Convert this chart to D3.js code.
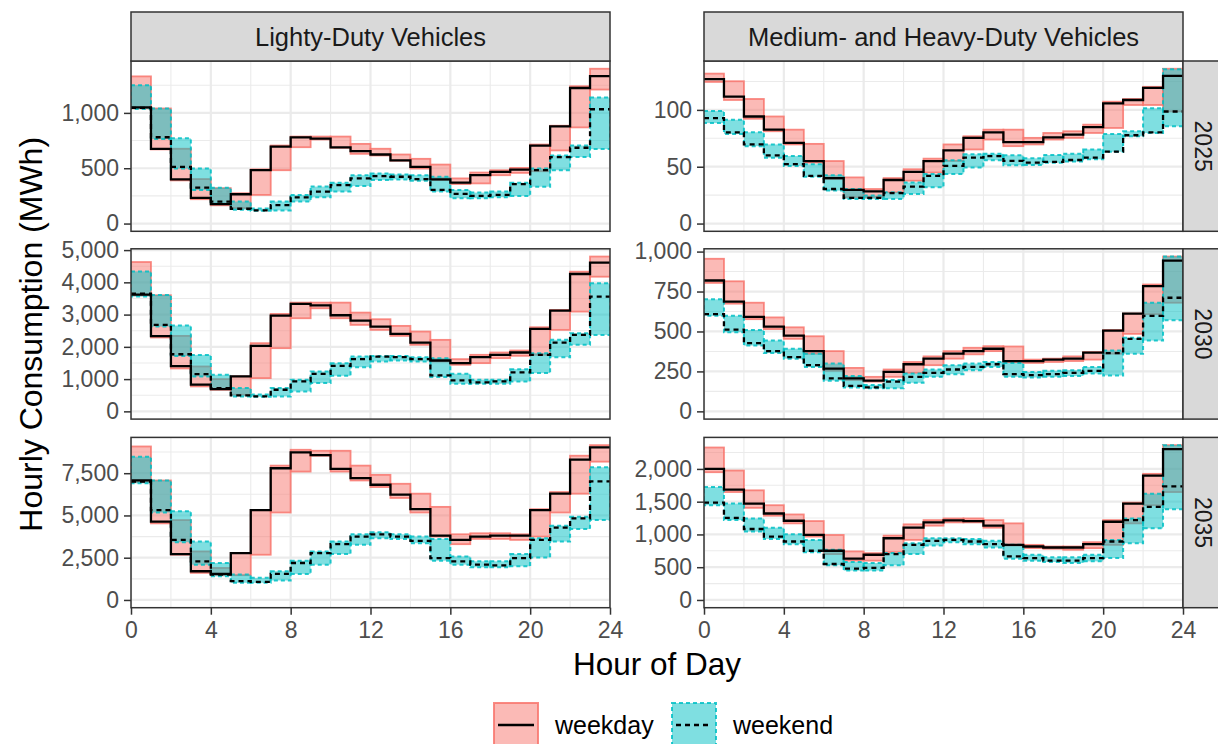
<!DOCTYPE html>
<html><head><meta charset="utf-8">
<script src="https://cdn.jsdelivr.net/npm/d3@7"></script>
<style>body{margin:0;background:#fff}svg{display:block}text{font-family:"Liberation Sans",Arial,sans-serif}</style>
</head><body><svg id="c" width="1218" height="744"></svg>
<script>
// ---------------- DATA ----------------
const hours = d3.range(24);
const vehicleTypes = ["Lighty-Duty Vehicles", "Medium- and Heavy-Duty Vehicles"];
const years = ["2025", "2030", "2035"];
const seriesNames = ["weekday", "weekend"];
const xTicks = [0, 4, 8, 12, 16, 20, 24];

// Light-duty 2025
const ldv2025WeekdayVal = [1050,675,400,232,176,265,482,696,778,768,688,655,624,571,512,399,369,437,467,488,705,878,1225,1332];
const ldv2025WeekdayLo  = [1040,670,390,220,165,140,259,482,690,760,685,630,615,568,497,393,357,363,437,458,473,661,869,1211];
const ldv2025WeekdayHi  = [1330,1040,676,402,320,274,490,705,786,786,786,720,676,624,585,533,408,461,482,503,714,884,1241,1399];
const ldv2025WeekendVal = [1045,780,512,324,199,134,120,167,237,289,348,408,429,423,402,304,268,250,259,357,482,601,685,1033];
const ldv2025WeekendLo  = [1035,765,497,304,179,125,115,119,199,237,289,339,393,399,387,289,229,229,238,250,333,482,601,673];
const ldv2025WeekendHi  = [1250,1039,770,497,324,199,135,199,259,334,369,437,452,444,437,423,304,280,289,369,497,616,705,1140];
// Light-duty 2030
const ldv2030WeekdayVal = [3620,2330,1400,826,690,1083,2031,2970,3330,3289,2980,2815,2629,2402,2134,1577,1495,1680,1753,1825,2557,3124,4258,4609];
const ldv2030WeekdayLo  = [3600,2290,1330,773,670,515,1031,1959,2887,3196,2887,2681,2526,2340,2062,1546,1443,1495,1650,1722,1753,2526,3093,4175];
const ldv2030WeekdayHi  = [4630,3600,2340,1392,1000,1083,2114,3020,3371,3371,3371,3062,2856,2650,2474,2217,1619,1753,1825,1887,2608,3145,4330,4800];
const ldv2030WeekendVal = [3650,2680,1770,1155,720,495,464,670,928,1165,1412,1619,1700,1680,1619,1113,959,897,928,1206,1753,2134,2371,3557];
const ldv2030WeekendLo  = [3560,2630,1715,1083,690,464,450,464,619,876,1103,1370,1546,1577,1546,1062,856,856,856,928,1186,1680,2062,2371];
const ldv2030WeekendHi  = [4340,3610,2660,1750,1134,722,520,722,980,1237,1495,1700,1720,1720,1680,1650,1165,980,980,1309,1804,2217,2423,3969];
// Light-duty 2035
const ldv2035WeekdayVal = [7070,4629,2715,1699,1543,2773,5312,7792,8730,8574,7753,7206,6816,6230,5371,3808,3554,3750,3808,3808,5312,6289,8300,9023];
const ldv2035WeekdayLo  = [6972,4531,2676,1601,1465,1465,2676,5175,7597,8534,7597,7070,6679,6035,5175,3750,3300,3613,3613,3554,3750,5175,6289,8183];
const ldv2035WeekdayHi  = [9081,7070,4726,2871,1894,2773,5312,7948,8886,8827,8827,7948,7402,6874,6289,5507,3886,3945,3945,3886,5371,6386,8534,9160];
const ldv2035WeekendVal = [7000,5312,3554,2285,1504,1113,1074,1543,2187,2773,3300,3750,3886,3750,3496,2480,2285,2090,2051,2480,3554,4277,4824,7011];
const ldv2035WeekendLo  = [6900,5175,3418,2090,1406,1016,1016,1152,1543,2090,2715,3261,3652,3613,3359,2324,2090,1933,1933,1992,2519,3457,4199,4726];
const ldv2035WeekendHi  = [8476,7070,5253,3457,2187,1504,1308,1699,2324,2871,3457,3886,4004,3886,3750,3613,2578,2285,2285,2715,3652,4394,4921,7851];
// Medium/heavy-duty 2025
const mhdv2025WeekdayVal = [127,111.6,94.2,82.6,71,55,40,29.6,28.4,38.3,45.5,55,64.3,75.4,80.3,71.6,71.6,75.9,78.3,84.9,105.8,108.7,119.4,129.9];
const mhdv2025WeekdayLo  = [124.6,108.7,92.2,81.2,69.6,53.6,39.1,23.2,23.2,27.5,37.7,44.9,55.1,65.2,73.9,68.1,69.6,73.9,75.4,79.7,84.1,104.3,104.3,98.6];
const mhdv2025WeekdayHi  = [131.9,125.2,109.6,94.2,82.6,70.1,55,40.6,30.4,40,47.8,57.1,69.6,76.8,82.6,82.6,75.4,79.7,81.2,87,107.2,109.6,120.3,136.2];
const mhdv2025WeekendVal = [92.8,80.3,69.6,60,52.2,42,30.4,22.6,22.6,26.7,32.5,42,50.7,58,59.4,55.1,53.6,54.2,55.9,58,63.2,77.7,80.3,98.6];
const mhdv2025WeekendLo  = [88.4,78.8,68.1,58,50.7,41.2,29,21.7,21.7,21.7,26.1,31.9,43.5,49.3,55.7,51.3,51.6,53.6,54.5,56.5,63.2,76.8,79.7,85.5];
const mhdv2025WeekendHi  = [99,91.3,80.3,69.6,59.4,52.2,42.6,30.4,24.6,27.5,36.2,43.5,55.7,60.9,61.4,60,57.4,60.3,61.4,65.2,78.8,81.2,101.4,135.7];
// Medium/heavy-duty 2030
const mhdv2030WeekdayVal = [819,687,592,530,474,377,268,206,192,247,295,330,361,377,392,315,315,324,330,367,505,612,784,944];
const mhdv2030WeekdayLo  = [804,674,577,515,454,361,254,196,186,216,241,289,330,357,377,309,303,309,315,324,361,485,608,680];
const mhdv2030WeekdayHi  = [955,814,680,588,526,470,377,272,216,262,309,344,377,398,408,406,324,330,344,371,509,612,794,969];
const mhdv2030WeekendVal = [608,511,427,377,340,289,206,159,150,186,216,241,262,278,295,233,227,233,241,254,365,454,598,711];
const mhdv2030WeekendLo  = [598,495,412,365,330,278,192,150,144,144,179,216,233,258,278,216,212,216,221,237,225,361,443,571];
const mhdv2030WeekendHi  = [701,598,509,443,392,361,299,221,165,196,237,262,289,299,309,303,247,254,258,278,381,460,680,969];
// Medium/heavy-duty 2035
const mhdv2035WeekdayVal = [2000,1683,1471,1320,1209,992,751,630,690,942,1103,1184,1214,1204,1134,841,816,801,801,851,1194,1471,1899,2302];
const mhdv2035WeekdayLo  = [1950,1647,1406,1285,1169,967,700,600,600,730,917,1134,1184,1184,1103,831,791,781,766,791,841,1169,1446,1647];
const mhdv2035WeekdayHi  = [2327,1975,1673,1446,1305,1204,992,741,715,982,1154,1219,1244,1244,1219,1169,841,816,816,882,1219,1486,1925,2363];
const mhdv2035WeekendVal = [1486,1254,1083,967,892,751,549,479,489,700,841,902,917,892,851,665,640,600,600,640,892,1219,1421,1733];
const mhdv2035WeekendLo  = [1446,1219,1043,932,851,730,529,448,448,529,700,831,882,851,801,630,600,579,564,589,640,866,1093,1385];
const mhdv2035WeekendHi  = [1723,1471,1244,1103,1003,917,766,579,564,715,866,942,942,932,902,841,690,650,650,690,917,1244,1622,2363];

const yTicksLdv2025 = [0, 500, 1000];
const yTicksLdv2030 = [0, 1000, 2000, 3000, 4000, 5000];
const yTicksLdv2035 = [0, 2500, 5000, 7500];
const yTicksMhdv2025 = [0, 50, 100];
const yTicksMhdv2030 = [0, 250, 500, 750, 1000];
const yTicksMhdv2035 = [0, 500, 1000, 1500, 2000];

// ---------------- TABLE ----------------
const S = (val, lo, hi) => ({val, lo, hi});
const panels = [
  {col:0,row:0,ticks:yTicksLdv2025,weekday:S(ldv2025WeekdayVal,ldv2025WeekdayLo,ldv2025WeekdayHi),weekend:S(ldv2025WeekendVal,ldv2025WeekendLo,ldv2025WeekendHi)},
  {col:0,row:1,ticks:yTicksLdv2030,weekday:S(ldv2030WeekdayVal,ldv2030WeekdayLo,ldv2030WeekdayHi),weekend:S(ldv2030WeekendVal,ldv2030WeekendLo,ldv2030WeekendHi)},
  {col:0,row:2,ticks:yTicksLdv2035,weekday:S(ldv2035WeekdayVal,ldv2035WeekdayLo,ldv2035WeekdayHi),weekend:S(ldv2035WeekendVal,ldv2035WeekendLo,ldv2035WeekendHi)},
  {col:1,row:0,ticks:yTicksMhdv2025,weekday:S(mhdv2025WeekdayVal,mhdv2025WeekdayLo,mhdv2025WeekdayHi),weekend:S(mhdv2025WeekendVal,mhdv2025WeekendLo,mhdv2025WeekendHi)},
  {col:1,row:1,ticks:yTicksMhdv2030,weekday:S(mhdv2030WeekdayVal,mhdv2030WeekdayLo,mhdv2030WeekdayHi),weekend:S(mhdv2030WeekendVal,mhdv2030WeekendLo,mhdv2030WeekendHi)},
  {col:1,row:2,ticks:yTicksMhdv2035,weekday:S(mhdv2035WeekdayVal,mhdv2035WeekdayLo,mhdv2035WeekdayHi),weekend:S(mhdv2035WeekendVal,mhdv2035WeekendLo,mhdv2035WeekendHi)}
];

// ---------------- LAYOUT / STYLE ----------------
const colX = [[131, 610], [704, 1183]];
const rowTop = [61, 248.8, 437.4];
const rowH = 170.3;
const fills = {weekday: "#F8766D", weekend: "#00BFC4"};
const dashRect = {weekday: null, weekend: "4,3"};
const dashLine = {weekday: null, weekend: "5,4"};
const gridCol = "#EBEBEB", borderCol = "#333333", tickTextCol = "#4D4D4D";
const FONT = '"Liberation Sans",Arial,sans-serif';

const svg = d3.select("#c");
const defs = svg.append("defs");

panels.forEach((p, i) => {
  const [x0, x1] = colX[p.col];
  const top = rowTop[p.row], bot = top + rowH;
  const x = d3.scaleLinear().domain([0, 24]).range([x0, x1]);
  const maxV = d3.max([...p.weekday.hi, ...p.weekend.hi, ...p.weekday.val, ...p.weekend.val]);
  const y = d3.scaleLinear().domain([-0.05 * maxV, 1.05 * maxV]).range([bot, top]);
  const g = svg.append("g");
  defs.append("clipPath").attr("id", "clip" + i).append("rect")
    .attr("x", x0).attr("y", top).attr("width", x1 - x0).attr("height", rowH);
  const inner = g.append("g").attr("clip-path", `url(#clip${i})`);

  // grid
  const step = p.ticks[1] - p.ticks[0];
  const minorY = d3.range(p.ticks[0] - step / 2, y.domain()[1] + step, step).filter(v => v > y.domain()[0] && v < y.domain()[1]);
  const minorX = [2, 6, 10, 14, 18, 22];
  inner.selectAll(".mny").data(minorY).join("line").attr("x1", x0).attr("x2", x1)
    .attr("y1", d => y(d)).attr("y2", d => y(d)).attr("stroke", gridCol).attr("stroke-width", 1.1);
  inner.selectAll(".mnx").data(minorX).join("line").attr("y1", top).attr("y2", bot)
    .attr("x1", d => x(d)).attr("x2", d => x(d)).attr("stroke", gridCol).attr("stroke-width", 1.1);
  inner.selectAll(".mjy").data(p.ticks).join("line").attr("x1", x0).attr("x2", x1)
    .attr("y1", d => y(d)).attr("y2", d => y(d)).attr("stroke", gridCol).attr("stroke-width", 2.2);
  inner.selectAll(".mjx").data(xTicks).join("line").attr("y1", top).attr("y2", bot)
    .attr("x1", d => x(d)).attr("x2", d => x(d)).attr("stroke", gridCol).attr("stroke-width", 2.2);

  // ribbons (per-hour rectangles)
  seriesNames.forEach(s => {
    const d = p[s];
    inner.append("g").selectAll("rect").data(hours).join("rect")
      .attr("x", h => x(h)).attr("width", h => x(h + 1) - x(h))
      .attr("y", h => y(d.hi[h])).attr("height", h => y(d.lo[h]) - y(d.hi[h]))
      .attr("fill", fills[s]).attr("fill-opacity", 0.5)
      .attr("stroke", fills[s]).attr("stroke-opacity", 0.85)
      .attr("stroke-width", s === "weekend" ? 2 : 1.8)
      .attr("stroke-dasharray", dashRect[s]);
  });
  // step lines
  seriesNames.forEach(s => {
    const d = p[s];
    const pts = hours.map(h => [h, d.val[h]]).concat([[24, d.val[23]]]);
    const line = d3.line().x(q => x(q[0])).y(q => y(q[1])).curve(d3.curveStepAfter);
    inner.append("path").attr("d", line(pts)).attr("fill", "none")
      .attr("stroke", "#000").attr("stroke-width", 2.3).attr("stroke-dasharray", dashLine[s]);
  });

  // border
  g.append("rect").attr("x", x0).attr("y", top).attr("width", x1 - x0).attr("height", rowH)
    .attr("fill", "none").attr("stroke", borderCol).attr("stroke-width", 1.5);

  // y axis
  const ya = g.append("g").attr("transform", `translate(${x0},0)`)
    .call(d3.axisLeft(y).tickValues(p.ticks).tickFormat(d3.format(",")).tickSize(7).tickPadding(5));
  ya.select(".domain").remove();
  ya.selectAll(".tick line").attr("stroke", borderCol).attr("stroke-width", 1.5);
  ya.selectAll(".tick text").attr("fill", tickTextCol).style("font-size", "23px").style("font-family", FONT);

  // x axis on bottom row
  if (p.row === 2) {
    const xa = g.append("g").attr("transform", `translate(0,${bot})`)
      .call(d3.axisBottom(x).tickValues(xTicks).tickSize(7).tickPadding(7));
    xa.select(".domain").remove();
    xa.selectAll(".tick line").attr("stroke", borderCol).attr("stroke-width", 1.5);
    xa.selectAll(".tick text").attr("fill", tickTextCol).style("font-size", "23px").style("font-family", FONT);
  }
});

// top strips
vehicleTypes.forEach((v, c) => {
  const [x0, x1] = colX[c];
  svg.append("rect").attr("x", x0).attr("y", 12).attr("width", x1 - x0).attr("height", 49)
    .attr("fill", "#D9D9D9").attr("stroke", borderCol).attr("stroke-width", 1.5);
  svg.append("text").attr("x", (x0 + x1) / 2).attr("y", 36.5).attr("text-anchor", "middle")
    .attr("dominant-baseline", "central").attr("fill", "#1A1A1A").style("font-size", "25.5px").text(v);
});
// right strips
years.forEach((yr, r) => {
  const top = rowTop[r];
  svg.append("rect").attr("x", 1183).attr("y", top).attr("width", 49).attr("height", rowH)
    .attr("fill", "#D9D9D9").attr("stroke", borderCol).attr("stroke-width", 1.5);
  svg.append("text").attr("transform", `translate(1203,${top + rowH / 2}) rotate(90)`)
    .attr("text-anchor", "middle").attr("dominant-baseline", "central")
    .attr("fill", "#1A1A1A").style("font-size", "23px").text(yr);
});

// axis titles
svg.append("text").attr("x", (131 + 1183) / 2).attr("y", 675).attr("text-anchor", "middle")
  .attr("fill", "#000").style("font-size", "31.5px").text("Hour of Day");
svg.append("text").attr("transform", `translate(42,${(61 + 607.7) / 2}) rotate(-90)`)
  .attr("text-anchor", "middle").attr("fill", "#000").style("font-size", "32px")
  .text("Hourly Consumption (MWh)");

// legend
const legendItems = [{s: "weekday", kx: 494, tx: 555}, {s: "weekend", kx: 672, tx: 733}];
legendItems.forEach(it => {
  const lg = svg.append("g");
  lg.append("rect").attr("x", it.kx).attr("y", 703).attr("width", 44).attr("height", 44)
    .attr("fill", fills[it.s]).attr("fill-opacity", 0.5)
    .attr("stroke", fills[it.s]).attr("stroke-opacity", 0.85).attr("stroke-width", 2)
    .attr("stroke-dasharray", dashRect[it.s]);
  lg.append("line").attr("x1", it.kx + 4).attr("x2", it.kx + 40).attr("y1", 725).attr("y2", 725)
    .attr("stroke", "#000").attr("stroke-width", 2.3).attr("stroke-dasharray", dashLine[it.s]);
  lg.append("text").attr("x", it.tx).attr("y", 725).attr("dominant-baseline", "central")
    .attr("fill", "#000").style("font-size", "25px").text(it.s);
});
</script></body></html>
